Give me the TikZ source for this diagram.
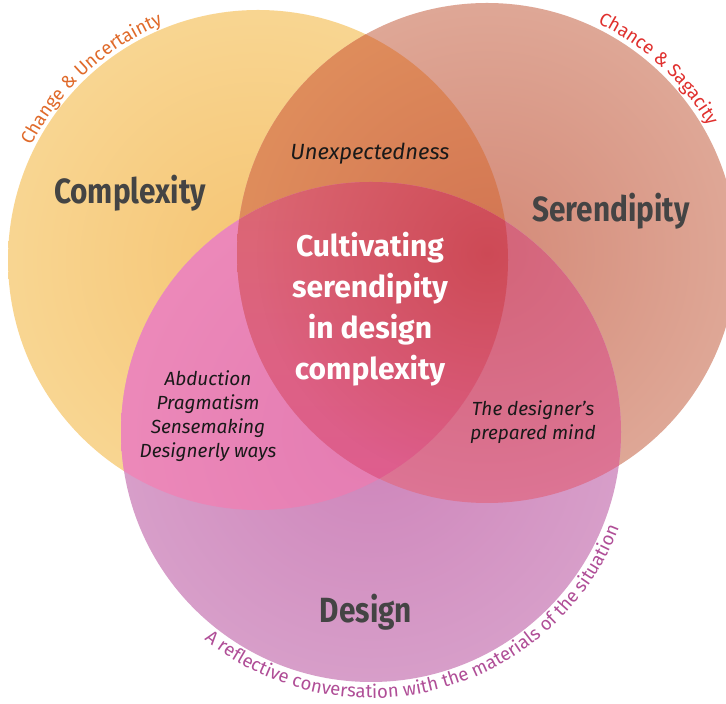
\documentclass[tikz,border=0pt]{standalone}
\usepackage{fontspec}
\setmainfont{Fira Sans}
\newfontfamily\headfont{Fira Sans}
\newfontfamily\titlefont{Fira Sans}[FakeStretch=0.85]
\newfontfamily\arcfont{Fira Sans}
\usetikzlibrary{decorations.text,calc,fadings}

% circle colours (centre / rim)
\definecolor{yIn}{HTML}{F5C473}   \definecolor{yOut}{HTML}{FCE7B0}
\definecolor{bIn}{HTML}{D48A78}   \definecolor{bOut}{HTML}{E9C4B4}
\definecolor{pIn}{HTML}{CE84BA}   \definecolor{pOut}{HTML}{E0B8D8}
% overlap colours
\definecolor{ybIn}{HTML}{D27452}  \definecolor{ybOut}{HTML}{EBA565}
\definecolor{ypIn}{HTML}{E47CB2}  \definecolor{ypOut}{HTML}{F495C0}
\definecolor{bpIn}{HTML}{D36478}  \definecolor{bpOut}{HTML}{E584B0}
\definecolor{ybpTop}{HTML}{DB6770} \definecolor{ybpBot}{HTML}{DE5C92}
\definecolor{ybpSpot}{HTML}{CB4550}
% text colours
\definecolor{headgray}{HTML}{444444}
\definecolor{orangeLbl}{HTML}{E06A2A}
\definecolor{redLbl}{HTML}{E0302E}
\definecolor{purpleLbl}{HTML}{B04E97}

\pgfdeclareradialshading{ysh}{\pgfpoint{0bp}{0bp}}{color(0bp)=(yIn); color(50bp)=(yOut); color(100bp)=(yOut)}
\pgfdeclareradialshading{bsh}{\pgfpoint{0bp}{0bp}}{color(0bp)=(bIn); color(50bp)=(bOut); color(100bp)=(bOut)}
\pgfdeclareradialshading{psh}{\pgfpoint{0bp}{0bp}}{color(0bp)=(pIn); color(50bp)=(pOut); color(100bp)=(pOut)}
\pgfdeclareradialshading{ybsh}{\pgfpoint{0bp}{0bp}}{color(0bp)=(ybIn); color(50bp)=(ybOut); color(100bp)=(ybOut)}
\pgfdeclareradialshading{ypsh}{\pgfpoint{0bp}{0bp}}{color(0bp)=(ypIn); color(50bp)=(ypOut); color(100bp)=(ypOut)}
\pgfdeclareradialshading{bpsh}{\pgfpoint{0bp}{0bp}}{color(0bp)=(bpIn); color(50bp)=(bpOut); color(100bp)=(bpOut)}

% soft spot: opaque centre, clear rim
\tikzfading[name=spotfade, inner color=transparent!15, outer color=transparent!100]

\def\R{250pt}

\begin{document}
\begin{tikzpicture}[x=1pt,y=1pt,
  head/.style={font=\titlefont\bfseries\fontsize{35}{35}\selectfont, text=headgray, inner sep=0pt},
  core/.style={font=\headfont\bfseries\fontsize{30}{41}\selectfont, text=white, align=center, inner sep=0pt},
  note/.style={font=\itshape\fontsize{19}{24}\selectfont, text=black!90, align=center, inner sep=0pt},
  arclabel/.style={decorate, decoration={text along path, text align=center, text={#1}}}
]
\useasboundingbox (0,0) rectangle (726,704);
\fill[white] (0,0) rectangle (726,704);
\clip (0,0) rectangle (726,704);

\coordinate (Yc) at (258,444);
\coordinate (Bc) at (487,451);
\coordinate (Pc) at (371,272);

% single circles
\shade[shading=ysh] (Yc) circle[radius=\R];
\shade[shading=bsh] (Bc) circle[radius=\R];
\shade[shading=psh] (Pc) circle[radius=\R];

% pairwise overlaps
\begin{scope}
  \clip (Yc) circle[radius=\R];
  \shade[shading=ybsh] (Bc) circle[radius=\R];
\end{scope}
\begin{scope}
  \clip (Yc) circle[radius=\R];
  \shade[shading=ypsh] (Pc) circle[radius=\R];
\end{scope}
\begin{scope}
  \clip (Pc) circle[radius=\R];
  \shade[shading=bpsh] (Bc) circle[radius=\R];
\end{scope}
% triple overlap: coral at the top, pink below, deeper red round the Serendipity centre
\begin{scope}
  \clip (Yc) circle[radius=\R];
  \clip (Pc) circle[radius=\R];
  \clip (Bc) circle[radius=\R];
  \shade[top color=ybpTop, bottom color=ybpBot] (230,190) rectangle (520,530);
  \fill[ybpSpot, path fading=spotfade] (Bc) circle[radius=230pt];
\end{scope}

% titles
\node[head] (tComplexity) at (130,511) {Complexity};
\node[head] (tSerendipity) at (611,493) {Serendipity};
\node[head] (tDesign) at (366,92) {Design};

% overlap notes
\node[note, font=\itshape\fontsize{22}{24}\selectfont] (tUnexp) at (370,550) {Unexpectedness};
\node[note] (tLeft) at (208,288) {Abduction\\Pragmatism\\Sensemaking\\Designerly ways};
\node[note] (tRight) at (533,282) {The designer’s\\prepared mind};
\node[core] (tCore) at (370,395) {Cultivating\\serendipity\\in design\\complexity};

% curved labels round the rims
\path[arclabel={|\arcfont\fontsize{18.5}{18.5}\selectfont\color{orangeLbl}|Change {\&} Uncertainty}]
  ($(Yc)+(162.6:254pt)$) arc[start angle=162.6, end angle=102.6, radius=254pt];
\path[arclabel={|\arcfont\fontsize{18.5}{18.5}\selectfont\color{redLbl}|Chance {\&} Sagacity}]
  ($(Bc)+(77:255pt)$) arc[start angle=77, end angle=17, radius=255pt];
\path[arclabel={|\arcfont\fontsize{18.5}{18.5}\selectfont\color{purpleLbl}|A reflective conversation with the materials of the situation}]
  ($(Pc)+(215:266pt)$) arc[start angle=215, end angle=355, radius=266pt];
\end{tikzpicture}
\end{document}
